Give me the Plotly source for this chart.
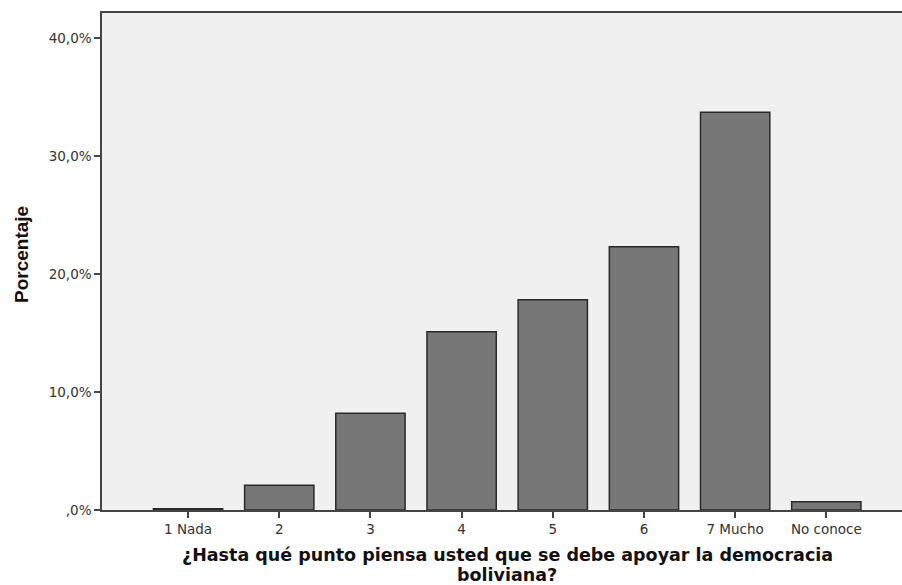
import plotly.graph_objects as go

categories = ["1 Nada", "2", "3", "4", "5", "6", "7 Mucho", "No conoce"]
percent = [0.1, 2.1, 8.2, 15.1, 17.8, 22.3, 33.7, 0.7]
y_tickvals = [0, 10, 20, 30, 40]
y_ticktext = [",0%", "10,0%", "20,0%", "30,0%", "40,0%"]
x_title_lines = ["¿Hasta qué punto piensa usted que se debe apoyar la democracia", "boliviana?"]
y_title = "Porcentaje"

fig = go.Figure(go.Bar(
    x=list(range(len(categories))),
    y=percent,
    width=0.76,
    marker=dict(color="#777777", line=dict(color="#2a2a2a", width=1.5)),
))

W, H = 902, 585
plot_left, plot_top, plot_bottom = 102, 13, 510
ph = plot_bottom - plot_top
pw = W - plot_left

tick_font = dict(family="DejaVu Sans, Verdana, sans-serif", size=13.5, color="#333333")

fig.update_layout(
    width=W, height=H,
    margin=dict(l=plot_left, r=0, t=plot_top, b=H - plot_bottom, pad=0),
    paper_bgcolor="white",
    plot_bgcolor="#f0f0f0",
    showlegend=False,
    font=dict(family="DejaVu Sans, sans-serif", color="#333333"),
    xaxis=dict(
        tickmode="array",
        tickvals=list(range(len(categories))),
        ticktext=categories,
        range=[-0.944, 7.83],
        showgrid=False, zeroline=False, automargin=False,
        showline=True, linecolor="#444444", linewidth=1.5, mirror=True,
        ticks="outside", ticklen=6, tickcolor="#444444", tickwidth=1.5,
        tickfont=tick_font,
    ),
    yaxis=dict(
        tickmode="array",
        tickvals=y_tickvals,
        ticktext=y_ticktext,
        range=[0, 42.1],
        showgrid=False, zeroline=False, automargin=False,
        showline=True, linecolor="#444444", linewidth=1.5,
        ticks="outside", ticklen=6, tickcolor="#444444", tickwidth=1.5,
        tickfont=tick_font,
    ),
)

title_font = dict(family="DejaVu Sans, Verdana, sans-serif", size=17.5, color="#111111")
for line, ypx in zip(x_title_lines, [555, 574.5]):
    fig.add_annotation(
        text="<b>%s</b>" % line, xref="paper", yref="paper",
        x=(507 - plot_left) / pw, y=(plot_bottom - ypx) / ph,
        xanchor="center", yanchor="middle", showarrow=False, font=title_font,
    )

fig.add_annotation(
    text="<b>%s</b>" % y_title, xref="paper", yref="paper",
    x=(22 - plot_left) / pw, y=(plot_bottom - 255) / ph,
    xanchor="center", yanchor="middle", textangle=-90, showarrow=False,
    font=dict(family="Liberation Sans, Arial, sans-serif", size=19, color="#111111"),
)

fig.write_html(
    "out.html",
    config={"displayModeBar": False},
    post_script="document.body.style.margin='0';document.body.style.overflow='hidden';",
)
